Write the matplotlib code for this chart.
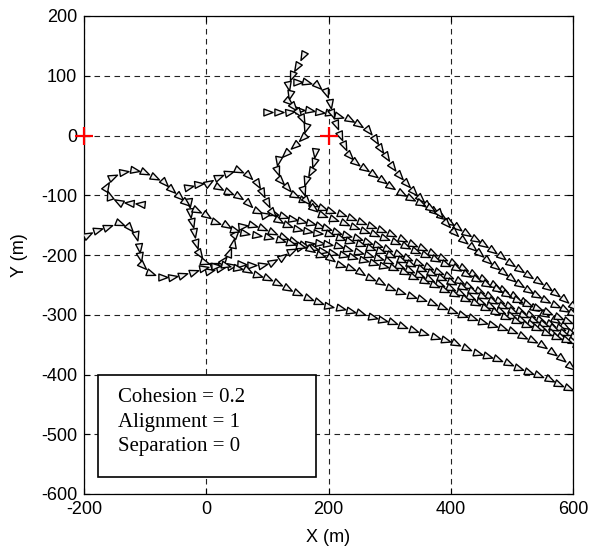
import numpy as np
import matplotlib
matplotlib.use("Agg")
import matplotlib.pyplot as plt
from matplotlib.markers import MarkerStyle
from matplotlib.path import Path
from matplotlib.transforms import Affine2D
from matplotlib.patches import Rectangle

# ---------------- data ----------------
A_x = [100,118,136,152,168,184,200,216,233,249,264,276,285,294,304,315,327,339,350,361,
       372,384,397,411,425,439,453,468,483,497,512,527,542,557,571,586,600]
A_y = [40,40,40,42,42,39,37,33,28,19,9,-6,-21,-35,-51,-66,-80,-93,-105,-116,
       -126,-135,-144,-153,-164,-173,-181,-191,-202,-213,-223,-233,-243,-253,-263,-274,-286]

B_x = [148,164,182,196,202,205,212,219,226,233,244,258,273,287,301,318,334,350,366,380,
       392,406,420,434,447,460,473,486,499,512,526,540,555,570,585,598]
B_y = [90,90,85,72,55,37,19,1,-16,-32,-44,-55,-65,-75,-85,-96,-105,-113,-121,-130,
       -146,-161,-175,-186,-197,-208,-219,-229,-239,-249,-258,-267,-275,-283,-290,-297]

C_x = [158,149,140,134,137,134,142,150,157,164,159,145,130,118,115,121,132,143,159,175,190,
       203,220,236,253,270,286,303,320,336,353,370,386,403,420,436,453,470,486,503,520,536,553,570,586,603]
C_y = [135,117,101,85,70,57,50,40,30,15,-2,-16,-29,-41,-58,-75,-87,-100,-108,-114,-121,
       -126,-132,-138,-145,-152,-158,-165,-173,-181,-189,-197,-205,-213,-222,-231,-241,-250,-259,-268,-278,
       -288,-298,-308,-318,-328]

D_x = [178,176,171,163,158,163,175,189,
       208,225,241,258,275,291,308,325,341,358,375,391,408,425,441,458,475,491,508,525,541,558,575,591,608]
D_y = [-28,-44,-60,-75,-92,-108,-122,-133,
       -140,-146,-153,-159,-165,-172,-178,-185,-193,-200,-207,-215,-222,-231,-240,-248,-257,-266,-275,
       -282,-289,-296,-304,-311,-318]

K_x = [20,36,52,69,83,96,110,125,140,155,170,185,
       196,213,229,246,263,279,296,313,329,346,363,379,396,413,429,446,463,479,496,513,529,546,563,579,596]
K_y = [-86,-95,-102,-113,-127,-133,-130,-135,-140,-143,-147,-151,
       -155,-161,-167,-172,-178,-184,-190,-198,-205,-213,-220,-228,-235,-243,-252,-260,-268,-277,-285,
       -293,-300,-308,-315,-323,-330]

G_x = [-30,-13,3,19,36,52,69,83,91,99,107,118,132,148,165,182,
       201,218,234,251,268,284,301,318,334,351,368,384,401,418,434,451,468,484,501,518,534,551,568,584,601]
G_y = [-86,-82,-80,-70,-63,-58,-66,-80,-94,-111,-128,-142,-150,-156,-160,-163,
       -165,-171,-177,-182,-188,-194,-200,-208,-215,-223,-230,-238,-245,-253,-261,-269,-277,-285,-293,
       -301,-308,-316,-323,-331,-338]

I_x = [5,22,40,57,74,91,108,124,138,153,168,184,
       198,215,231,248,265,281,298,315,331,348,365,381,398,415,431,448,465,481,498,515,531,548,565,581,598]
I_y = [-226,-222,-218,-215,-216,-216,-212,-203,-193,-186,-182,-180,
       -182,-185,-190,-195,-200,-205,-210,-218,-225,-233,-240,-248,-255,-263,-271,-279,-286,-294,-302,
       -309,-316,-323,-330,-337,-344]

H_x = [-28,-26,-24,-20,-17,-12,-3,12,28,38,44,47,58,75,92,108,125,142,158,174,190,
       206,223,239,256,273,289,306,323,339,356,373,389,406,423,439,456,473,489,506,523,539,556,573,589,606]
H_y = [-112,-128,-145,-162,-180,-197,-211,-216,-210,-197,-181,-165,-152,-150,-155,-162,-170,-177,-183,-188,-193,
       -196,-200,-204,-209,-213,-218,-222,-229,-236,-243,-251,-258,-265,-273,-280,-288,-295,-303,-310,
       -317,-323,-330,-337,-343,-350]

E_x = [-107,-124,-143,-159,-164,-154,-137,-118,-102,-85,-69,-57,-45,-34,-17,-1,15,32,45,62,
       82,101,121,137,153,170,186,202,219,235,251,268,284,300,317,335,352,369,385,402,
       418,435,451,468,484,500,517,533,549,565,580,595]
E_y = [-115,-113,-111,-102,-86,-69,-61,-58,-61,-69,-77,-90,-101,-111,-125,-133,-144,-150,-158,-163,
       -167,-170,-175,-180,-185,-190,-200,-205,-217,-222,-228,-239,-246,-255,-262,-268,-274,-280,-287,-294,
       -300,-306,-312,-317,-322,-328,-335,-343,-351,-362,-373,-385]

F_x = [-195,-178,-162,-143,-126,-115,-110,-108,-105,-92,-73,-56,-40,-22,-5,14,30,50,67,83,
       99,116,132,148,166,183,199,219,235,251,271,287,304,320,338,355,374,390,407,425,
       443,460,476,493,510,527,543,560,576,592]
F_y = [-167,-158,-153,-146,-153,-166,-186,-202,-217,-230,-237,-237,-234,-228,-222,-218,-217,-222,-225,-234,
       -239,-247,-255,-264,-272,-279,-285,-289,-293,-297,-304,-308,-312,-318,-325,-331,-337,-342,-347,-356,
       -364,-369,-374,-381,-389,-395,-401,-408,-416,-423]

AGENTS = [(A_x, A_y), (B_x, B_y), (C_x, C_y), (D_x, D_y), (K_x, K_y), (G_x, G_y),
          (I_x, I_y), (H_x, H_y), (E_x, E_y), (F_x, F_y)]

PLUS_X = [-200, 200]
PLUS_Y = [0, 0]

X_TICKS = [-200, 0, 200, 400, 600]
Y_TICKS = [-600, -500, -400, -300, -200, -100, 0, 100, 200]
BOX_LINES = ["Cohesion = 0.2", "Alignment = 1", "Separation = 0"]

# ---------------- figure ----------------
W, H = 589, 546
fig = plt.figure(figsize=(W / 100, H / 100), dpi=100)
ax = fig.add_axes([84 / W, 1 - 494 / H, (573 - 84) / W, (494 - 16) / H])
ax.set_xlim(-200, 600)
ax.set_ylim(-600, 200)
ax.set_xticks(X_TICKS)
ax.set_yticks(Y_TICKS)

tick_font = dict(family="Liberation Sans", size=13)
ax.set_xticklabels([str(v) for v in X_TICKS], **tick_font)
ax.set_yticklabels([str(v) for v in Y_TICKS], **tick_font)
ax.tick_params(direction="in", length=4, width=0.8, top=True, right=True, pad=5)
ax.grid(True, color="#222222", linestyle=(0, (5, 4)), linewidth=0.8)
ax.set_axisbelow(True)
for s in ax.spines.values():
    s.set_linewidth(0.9)
    s.set_color("black")

ax.set_xlabel("X (m)", family="Liberation Sans", size=13, labelpad=8)
ax.set_ylabel("Y (m)", family="Liberation Sans", size=13, labelpad=9)

# triangle marker pointing along +x
tri = Path([(1.0, 0.0), (-0.65, 0.62), (-0.65, -0.62), (1.0, 0.0)],
           [Path.MOVETO, Path.LINETO, Path.LINETO, Path.CLOSEPOLY])

fig.canvas.draw()
trans = ax.transData
for xs, ys in AGENTS:
    pts = trans.transform(np.column_stack([xs, ys]))
    n = len(xs)
    for i in range(n):
        if i < n - 1:
            d = pts[i + 1] - pts[i]
        else:
            d = pts[i] - pts[i - 1]
        ang = np.degrees(np.arctan2(d[1], d[0]))
        m = MarkerStyle(tri, transform=Affine2D().rotate_deg(ang))
        ax.plot(xs[i], ys[i], marker=m, markersize=8, markerfacecolor="#eeeeee",
                markeredgecolor="black", markeredgewidth=1.0, linestyle="none", zorder=3)

ax.plot(PLUS_X, PLUS_Y, linestyle="none", marker="+", color="red", markersize=13,
        markeredgewidth=1.6, zorder=6, clip_on=False)

# annotation box
ax.add_patch(Rectangle((-177, -572), 356, 172, facecolor="white", edgecolor="black",
                       linewidth=1.2, zorder=7))
for k, line in enumerate(BOX_LINES):
    ax.text(-145, -439 - 41 * k, line, family="Liberation Serif", size=15,
            va="center", ha="left", zorder=8)

fig.savefig("out.png", dpi=100)
